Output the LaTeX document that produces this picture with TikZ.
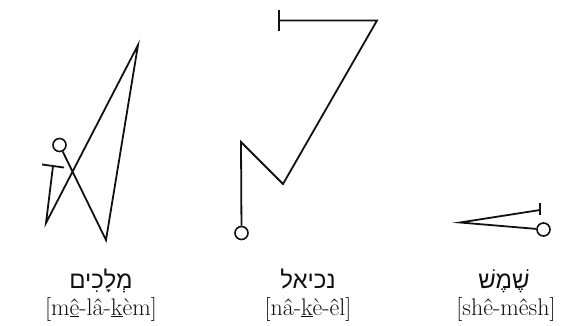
\documentclass[tikz,border=0pt]{standalone}
\usepackage{fontspec}
\usepackage{tikz}
\TeXXeTstate=1
\newfontfamily\hebrewfont[Script=Hebrew]{Liberation Sans}
\definecolor{glyphInk}{HTML}{111111}
\tikzset{
  glyphLine/.style={
    draw=glyphInk,
    line width=1.8pt,
    line join=miter,
    line cap=butt
  },
  glyphRing/.style={
    circle,
    draw=glyphInk,
    line width=1.6pt,
    fill=white,
    minimum size=13pt,
    inner sep=0pt
  },
  hebWord/.style={
    anchor=base,
    inner sep=0pt,
    text=glyphInk,
    font=\hebrewfont\fontsize{24}{26}\selectfont
  },
  sayWord/.style={
    anchor=base,
    inner sep=0pt,
    text=glyphInk,
    font=\fontsize{24}{26}\selectfont
  }
}

\begin{document}
\begin{tikzpicture}[x=1pt,y=-1pt]
  \useasboundingbox (0,0) rectangle (576,325);

  % melakim
  \coordinate (mTop) at (138,45);
  \coordinate (mLow) at (106,240);
  \coordinate (mFoot) at (46,223);
  \coordinate (mStem) at (53,166);
  \coordinate (mBarL) at (42,164.5);
  \coordinate (mBarR) at (64,167.5);
  \node[glyphRing] (mRing) at (59.5,145) {};
  \draw[glyphLine] (mRing) -- (mLow) -- (mTop) -- (mFoot) -- (mStem);
  \draw[glyphLine] (mBarL) -- (mBarR);

  % nakiel
  \coordinate (nBarT) at (279,10);
  \coordinate (nBarB) at (279,31);
  \coordinate (nStart) at (279,20.5);
  \coordinate (nTop) at (377,20.5);
  \coordinate (nLow) at (283,184);
  \coordinate (nKnee) at (241,142);
  \node[glyphRing] (nRing) at (241.5,233) {};
  \draw[glyphLine] (nStart) -- (nTop) -- (nLow) -- (nKnee) -- (nRing);
  \draw[glyphLine] (nBarT) -- (nBarB);

  % shemesh
  \coordinate (sTip) at (460,222.5);
  \coordinate (sEnd) at (540,210);
  \coordinate (sTickT) at (540,202.5);
  \coordinate (sTickB) at (540,214.5);
  \node[glyphRing] (sRing) at (543.5,229.5) {};
  \draw[glyphLine] (sEnd) -- (sTip) -- (sRing);
  \draw[glyphLine] (sTickT) -- (sTickB);

  % words
  \node[hebWord] (hebA) at (101,288) {\beginR מְלָכִים\endR};
  \node[sayWord] (sayA) at (101,315) {[m\underline{ê}-lâ-\underline{k}èm]};
  \node[hebWord] (hebB) at (308,288) {\beginR נכיאל\endR};
  \node[sayWord] (sayB) at (308,315) {[nâ-\underline{k}è-êl]};
  \node[hebWord] (hebC) at (504,288) {\beginR שֶׁמֶשׁ\endR};
  \node[sayWord] (sayC) at (506,315) {[shê-mêsh]};
\end{tikzpicture}
\end{document}
